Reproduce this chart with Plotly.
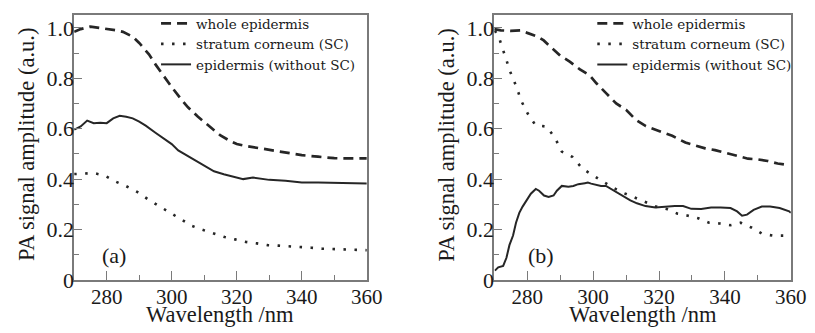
import plotly.graph_objects as go

# ---------------- Panel (a) data ----------------
a_whole_wl = [270, 272, 275, 278, 280, 283, 285, 288, 290, 293, 295, 298, 300, 303, 305, 308,
              310, 313, 315, 318, 320, 323, 325, 328, 330, 335, 340, 345, 350, 355, 360]
a_whole_amp = [0.984, 0.995, 1.005, 1.0, 0.995, 0.99, 0.984, 0.965, 0.94, 0.895, 0.855, 0.8,
               0.765, 0.715, 0.685, 0.648, 0.626, 0.594, 0.573, 0.551, 0.539, 0.531, 0.527,
               0.519, 0.514, 0.504, 0.495, 0.489, 0.483, 0.482, 0.482]

a_sc_wl = [270, 272.6, 276.0, 279.4, 282.8, 286.0, 289.4, 292.7, 296.1, 299.4, 302.7, 306.1,
           309.4, 312.7, 316.3, 319.5, 322.8, 326.2, 329.5, 332.9, 336.3, 339.6, 342.9, 346.3,
           349.7, 353.0, 356.4, 360]
a_sc_amp = [0.42, 0.421, 0.424, 0.414, 0.39, 0.372, 0.349, 0.32, 0.293, 0.268, 0.243, 0.215,
            0.199, 0.184, 0.17, 0.161, 0.151, 0.145, 0.138, 0.136, 0.134, 0.132, 0.128, 0.124,
            0.123, 0.122, 0.121, 0.118]

a_epi_wl = [270, 272, 274, 276, 278, 280, 282, 284, 286, 288, 290, 292, 295, 298, 300, 302,
            305, 308, 310, 313, 316, 320, 322, 325, 328, 330, 335, 340, 345, 350, 355, 360]
a_epi_amp = [0.596, 0.609, 0.632, 0.622, 0.624, 0.622, 0.641, 0.651, 0.647, 0.641, 0.628,
             0.612, 0.584, 0.558, 0.539, 0.514, 0.492, 0.47, 0.454, 0.431, 0.419, 0.406, 0.40,
             0.406, 0.40, 0.397, 0.393, 0.387, 0.387, 0.385, 0.383, 0.383]

# ---------------- Panel (b) data ----------------
b_whole_wl = [270, 272, 275, 278, 280, 283, 285, 288, 290, 293, 296, 299, 301, 304, 307, 310,
              313, 316, 320, 324, 328, 331, 334, 337, 340, 344, 347, 350, 353, 356, 358]
b_whole_amp = [0.995, 0.99, 0.988, 0.99, 0.98, 0.966, 0.95, 0.913, 0.89, 0.865, 0.835, 0.811,
               0.78, 0.74, 0.70, 0.675, 0.635, 0.61, 0.59, 0.572, 0.545, 0.532, 0.522, 0.515,
               0.505, 0.49, 0.481, 0.478, 0.472, 0.462, 0.458]

b_sc_wl = [270.2, 271.7, 272.5, 273.7, 274.9, 276.7, 278.2, 280.2, 282.5, 285.9, 288.4, 290.5,
           293.7, 296.8, 299.9, 303.0, 306.2, 309.4, 312.8, 315.9, 319.1, 322.4, 325.6, 328.8,
           331.9, 335.2, 338.4, 341.6, 344.8, 348.0, 351.3, 354.5, 357.7]
b_sc_amp = [0.989, 0.951, 0.919, 0.875, 0.824, 0.767, 0.71, 0.659, 0.614, 0.608, 0.564, 0.509,
            0.488, 0.441, 0.414, 0.39, 0.365, 0.344, 0.326, 0.31, 0.291, 0.281, 0.263, 0.255,
            0.245, 0.227, 0.224, 0.217, 0.227, 0.208, 0.183, 0.176, 0.176]

b_epi_wl = [270.2, 271.2, 272.7, 273.7, 274.6, 275.7, 276.6, 277.6, 278.6, 279.6, 281.1, 282.6,
            283.6, 285.1, 286.5, 288.0, 289.0, 290.5, 292.5, 294.0, 295.5, 297.5, 298.4, 299.4,
            300.9, 302.4, 303.9, 305.4, 307.4, 309.4, 311.3, 313.3, 315.9, 318.9, 321.8, 324.8,
            327.3, 329.8, 332.8, 335.8, 338.7, 341.7, 343.7, 345.2, 346.7, 348.7, 351.2, 353.7,
            356.6, 359.5, 360]
b_epi_amp = [0.037, 0.05, 0.056, 0.088, 0.138, 0.176, 0.227, 0.266, 0.291, 0.31, 0.342, 0.361,
             0.354, 0.335, 0.329, 0.335, 0.354, 0.373, 0.37, 0.373, 0.38, 0.384, 0.386, 0.382,
             0.376, 0.373, 0.373, 0.361, 0.344, 0.329, 0.316, 0.304, 0.293, 0.287, 0.291, 0.293,
             0.293, 0.282, 0.281, 0.287, 0.287, 0.285, 0.272, 0.255, 0.259, 0.278, 0.291, 0.291,
             0.285, 0.272, 0.266]

series_names = ["whole epidermis", "stratum corneum (SC)", "epidermis (without SC)"]
x_ticks = [280, 300, 320, 340, 360]
y_ticks = [0, 0.2, 0.4, 0.6, 0.8, 1.0]
y_tick_text = ["0", "0.2", "0.4", "0.6", "0.8", "1.0"]
panel_labels = ["(a)", "(b)"]
x_title = "Wavelength /nm"
y_title = "PA signal amplitude (a.u.)"

LINE_COL = "#262626"
AX_COL = "#7a7a7a"
TXT_COL = "#1a1a1a"
SERIF = "Liberation Serif"

styles = [
    dict(width=2.7, dash="10px,6px"),
    dict(width=2.6, dash="2.5px,8.5px"),
    dict(width=2.0, dash="solid"),
]

fig = go.Figure()
panels = [
    ("x", "y", "legend", [(a_whole_wl, a_whole_amp), (a_sc_wl, a_sc_amp), (a_epi_wl, a_epi_amp)]),
    ("x2", "y2", "legend2", [(b_whole_wl, b_whole_amp), (b_sc_wl, b_sc_amp), (b_epi_wl, b_epi_amp)]),
]
for xa, ya, lg, data in panels:
    for name, (xs, ys), st in zip(series_names, data, styles):
        fig.add_trace(go.Scatter(
            x=xs, y=ys, mode="lines", name=name, xaxis=xa, yaxis=ya, legend=lg,
            line=dict(color=LINE_COL, width=st["width"], dash=st["dash"]),
        ))

common_x = dict(
    range=[270, 360], tickvals=x_ticks, ticks="inside", ticklen=9, tickwidth=1,
    tickcolor=AX_COL, showline=True, linecolor=AX_COL, linewidth=1.5, mirror=True,
    showgrid=False, zeroline=False, tickfont=dict(family=SERIF, size=21, color=TXT_COL),
    ticklabelstandoff=-3,
    minor=dict(dtick=10, tick0=270, ticks="inside", ticklen=5, tickcolor=AX_COL, tickwidth=1),
)
common_y = dict(
    range=[0, 1.052], tickvals=y_ticks, ticktext=y_tick_text, ticks="inside", ticklen=8,
    tickwidth=1, tickcolor=AX_COL, showline=True, linecolor=AX_COL, linewidth=1.5,
    mirror=True, showgrid=False, zeroline=False, ticklabelstandoff=-6,
    tickfont=dict(family=SERIF, size=22, color=TXT_COL),
    minor=dict(dtick=0.1, tick0=0, ticks="inside", ticklen=5, tickcolor=AX_COL, tickwidth=1),
)

W, H = 815, 333
LEG_FONT = dict(family="DejaVu Serif", size=13.5, color=TXT_COL)
fig.update_layout(
    width=W, height=H, margin=dict(l=0, r=0, t=0, b=0),
    paper_bgcolor="white", plot_bgcolor="white",
    xaxis=dict(common_x, domain=[67.5 / W, 366 / W], anchor="y"),
    yaxis=dict(common_y, domain=[50 / H, 326 / H], anchor="x"),
    xaxis2=dict(common_x, domain=[496 / W, 798.5 / W], anchor="y2"),
    yaxis2=dict(common_y, domain=[50 / H, 326 / H], anchor="x2"),
    legend=dict(x=151 / W, y=1.0, xanchor="left", yanchor="top",
                bgcolor="rgba(0,0,0,0)", font=LEG_FONT, itemwidth=30, tracegroupgap=0),
    legend2=dict(x=596 / W, y=1.0, xanchor="left", yanchor="top",
                 bgcolor="rgba(0,0,0,0)", font=LEG_FONT, itemwidth=30, tracegroupgap=0),
    showlegend=True,
)

title_font = dict(family=SERIF, size=22.5, color=TXT_COL)
for xc in [(67.5 + 366) / 2, (496 + 798.5) / 2]:
    fig.add_annotation(text=x_title, x=xc / W, y=0, xref="paper", yref="paper",
                       xanchor="center", yanchor="bottom", yshift=-1, showarrow=False,
                       font=title_font)
for xc in [19, 447]:
    fig.add_annotation(text=y_title, x=xc / W, y=1 - 142 / H, xref="paper", yref="paper",
                       xanchor="center", yanchor="middle", textangle=-90, showarrow=False,
                       font=title_font)

for lab, xr, yr, xp in zip(panel_labels, ["x", "x2"], ["y", "y2"], [0.087, 0.108]):
    fig.add_annotation(text=lab, x=xp, y=0.095, xref=f"{xr} domain", yref=yr, showarrow=False,
                       font=dict(family=SERIF, size=22, color=TXT_COL))

fig.write_html("out.html")
